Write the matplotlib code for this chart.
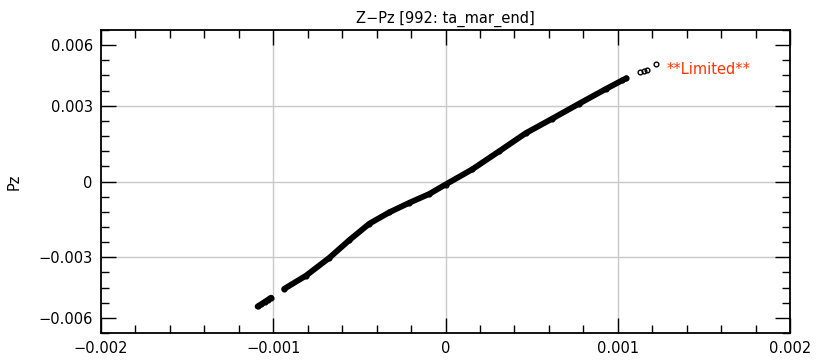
import matplotlib
matplotlib.use('Agg')
import matplotlib.pyplot as plt
from matplotlib.ticker import MultipleLocator

# valores (Z em x, Pz em y)
z_low = [-0.001091, -0.00107, -0.00105, -0.00103, -0.001013]
pz_low = [-0.00495, -0.00486, -0.00477, -0.00468, -0.00460]

z_main = [-0.000936, -0.00081, -0.000674, -0.000558, -0.000442, -0.000326,
          -0.000209, -0.000093, 0.0, 0.000155, 0.00031, 0.000465, 0.00062,
          0.000775, 0.00093, 0.001027, 0.00105]
pz_main = [-0.00425, -0.00373, -0.00302, -0.00232, -0.00167, -0.00122,
           -0.00084, -0.00049, -0.00012, 0.00048, 0.00119, 0.00191, 0.00249,
           0.00308, 0.00366, 0.00401, 0.00409]

z_high = [0.00113, 0.00115, 0.00117, 0.00122]
pz_high = [0.00434, 0.00438, 0.00442, 0.00464]

xticks = [-0.002, -0.001, 0, 0.001, 0.002]
xlabels = ['\u22120.002', '\u22120.001', '0', '0.001', '0.002']
yticks = [-0.0054, -0.003, 0, 0.003, 0.0054]
ylabels = ['\u22120.006', '\u22120.003', '0', '0.003', '0.006']
xgrid = [-0.001, 0, 0.001]
ygrid = [-0.003, 0, 0.003]

plt.rcParams['font.family'] = ['DejaVu Sans']

fig = plt.figure(figsize=(8.23, 3.62), dpi=100)
ax = fig.add_axes([101 / 823, 1 - 333 / 362, 689 / 823, 303 / 362])

# grade so nas linhas principais
for g in xgrid:
    ax.axvline(g, color='#c8c8c8', lw=1, zorder=0)
for g in ygrid:
    ax.axhline(g, color='#c8c8c8', lw=1, zorder=0)

# curva densa: linha grossa + circulos abertos
ax.plot(z_main, pz_main, color='black', lw=4.2, solid_capstyle='round',
        solid_joinstyle='round', zorder=2)
ax.plot(z_low, pz_low, color='black', lw=4.2, solid_capstyle='round', zorder=2)
for xs, ys in [(z_low, pz_low), (z_main, pz_main), (z_high, pz_high)]:
    ax.plot(xs, ys, linestyle='none', marker='o', ms=3.4, mfc='none',
            mec='black', mew=1.0, zorder=3)

ax.set_xlim(-0.002, 0.002)
ax.set_ylim(-0.006, 0.006)
ax.set_xticks(xticks)
ax.set_xticklabels(xlabels)
ax.set_yticks(yticks)
ax.set_yticklabels(ylabels)
ax.xaxis.set_minor_locator(MultipleLocator(0.0002))
ax.yaxis.set_minor_locator(MultipleLocator(0.0006))
ax.tick_params(which='both', direction='in', top=True, right=True,
               labelsize=10.5, width=1, color='black')
ax.tick_params(which='major', length=11, pad=6)
ax.tick_params(which='minor', length=6)
for s in ax.spines.values():
    s.set_linewidth(1.3)

ax.set_ylabel('Pz', fontsize=10.5, labelpad=12)
ax.set_title('Z\u2212Pz [992: ta_mar_end]', fontsize=10.5, pad=5)
ax.text(0.821, 0.871, '**Limited**', transform=ax.transAxes, color='#ff3300',
        fontsize=10.5, va='center', ha='left')

fig.savefig('out.png', dpi=100)
